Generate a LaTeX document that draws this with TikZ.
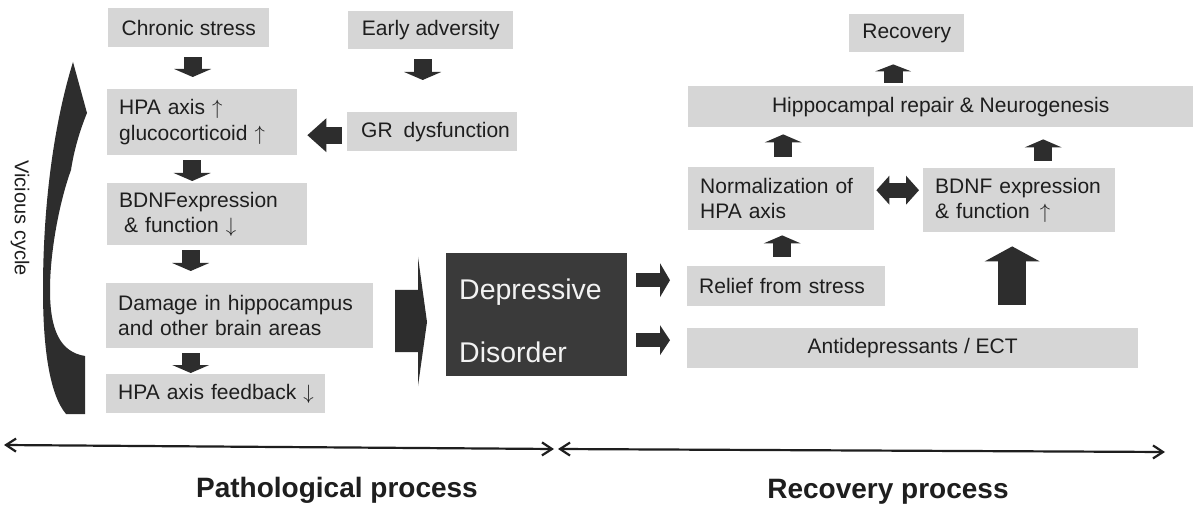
\documentclass[tikz,border=0pt]{standalone}
\usepackage{fontspec}
\setmainfont{Liberation Sans}
\usetikzlibrary{arrows.meta,calc}
\definecolor{boxgray}{RGB}{214,214,214}
\definecolor{arrdark}{RGB}{45,45,45}
\definecolor{depfill}{RGB}{58,58,58}
\definecolor{txt}{RGB}{30,30,30}
\definecolor{deptxt}{RGB}{242,242,242}
\newcommand{\up}{\ensuremath{\uparrow}}
\newcommand{\dn}{\ensuremath{\downarrow}}
\begin{document}
\begin{tikzpicture}[x=1pt,y=-1pt,
  gbox/.style={fill=boxgray, inner sep=0pt, anchor=north west, text=txt, font=\fontsize{21}{25.5}\selectfont},
  lbox/.style={gbox, align=left, inner xsep=12pt},
  cbox/.style={gbox, align=center},
  sarr/.style={arrdark, line width=18pt, -{Triangle[length=8pt,width=37pt,line width=0pt]}},
  harr/.style={arrdark, line width=14pt, -{Triangle[length=10pt,width=34pt,line width=0pt]}},
  axisline/.style={draw=txt, line width=2.2pt, {Straight Barb[length=10pt,width=13pt]}-{Straight Barb[length=10pt,width=13pt]}},
  deptext/.style={text=deptxt, font=\fontsize{28.5}{30}\selectfont, inner sep=0pt, anchor=base west},
  bold/.style={font=\fontsize{28}{30}\selectfont\bfseries, text=txt, anchor=base, inner sep=0pt}]
\fill[white] (0,0) rectangle (1195,505);
\useasboundingbox (0,0) rectangle (1195,505);

% boxes
\node[cbox, minimum width=161pt, minimum height=39pt] (cs) at (108,8) {Chronic stress};
\node[cbox, minimum width=165pt, minimum height=38pt] (ea) at (348,11) {Early adversity};
\node[lbox, text width=166pt, minimum height=66pt] (hpa) at (107,89) {\mbox{HPA axis \up}\\\mbox{glucocorticoid \up}};
\node[lbox, inner xsep=14pt, text width=142pt, minimum height=39pt] (gr) at (347,112) {\mbox{GR\hspace{11pt}dysfunction}};
\node[lbox, text width=176pt, minimum height=62pt] (bdnf) at (107,183) {\mbox{BDNFexpression}\\\mbox{\hspace*{5pt}\& function \dn}};
\node[lbox, text width=243pt, minimum height=65pt] (dmg) at (106,283) {\mbox{Damage in hippocampus}\\\mbox{and other brain areas}};
\node[lbox, text width=195pt, minimum height=39pt] (fb) at (106,374) {\mbox{HPA axis feedback \dn}};
\node[fill=depfill, inner sep=0pt, anchor=north west, minimum width=181pt, minimum height=123pt] (dep) at (446,253) {};
\node[deptext] (dep1) at ($(dep.north west)+(13,47)$) {Depressive};
\node[deptext] (dep2) at ($(dep.north west)+(13,109)$) {Disorder};
\node[lbox, text width=174pt, minimum height=40pt] (rel) at (687,266) {\mbox{Relief from stress}};
\node[cbox, minimum width=451pt, minimum height=40pt] (anti) at (687,328) {Antidepressants / ECT};
\node[lbox, text width=162pt, minimum height=63pt] (norm) at (688,167) {\mbox{Normalization of}\\\mbox{HPA axis}};
\node[lbox, text width=168pt, minimum height=64pt] (bdnf2) at (923,168) {\mbox{BDNF expression}\\\mbox{\& function\hspace{10pt}\up}};
\node[cbox, minimum width=505pt, minimum height=41pt] (hip) at (688,86) {Hippocampal repair \& Neurogenesis};
\node[cbox, minimum width=115pt, minimum height=38pt] (rec) at (849,14) {Recovery};

% vicious cycle
\node[rotate=-90, font=\fontsize{20}{24}\selectfont, text=txt, inner sep=0pt] (vc) at (20,218) {Vicious cycle};
\fill[arrdark] (73,62) -- (87,113) .. controls (80,130) and (74,150) .. (71,170)
  .. controls (60,200) and (50,250) .. (50,290)
  .. controls (50,330) and (60,352) .. (85,356)
  -- (85,414) -- (66,414)
  .. controls (50,395) and (43,350) .. (43,290)
  .. controls (43,200) and (55,120) .. (73,62) -- cycle;

% block arrows, left part
\draw[sarr, shorten <=10pt, shorten >=12pt] ($(cs.south)+(4,0)$) -- ($(cs.south|-hpa.north)+(4,0)$);
\draw[sarr, shorten <=10pt, shorten >=32pt] ($(ea.south)+(-8,0)$) -- ($(ea.south|-gr.north)+(-8,0)$);
\draw[arrdark, line width=17pt, -{Triangle[length=19pt,width=34pt,line width=0pt]}, shorten <=5pt, shorten >=10pt]
  ($(gr.west)+(0,3.5)$) -- ($(gr.west-|hpa.east)+(0,3.5)$);
\draw[sarr, shorten <=5pt, shorten >=2pt] ($(hpa.south)+(-10,0)$) -- ($(hpa.south|-bdnf.north)+(-10,0)$);
\draw[sarr, shorten <=5pt, shorten >=12pt] ($(bdnf.south)+(-16.5,0)$) -- ($(bdnf.south|-dmg.north)+(-16.5,0)$);
\draw[sarr, shorten <=5pt, shorten >=1pt] ($(dmg.south)+(-49,0)$) -- ($(dmg.south|-fb.north)+(-49,0)$);

% chevron into depressive disorder
\fill[arrdark] (395,290) -- (418,290) -- (418,257) -- (427,322) -- (418,386) -- (418,352) -- (395,352) -- cycle;

% arrows out of depressive disorder
\draw[harr, shorten <=9pt, shorten >=17pt] ($(dep.east)+(0,-34.5)$) -- ($(dep.east-|rel.west)+(0,-34.5)$);
\draw[arrdark, line width=14pt, -{Triangle[length=10pt,width=30pt,line width=0pt]}, shorten <=9pt, shorten >=17pt]
  ($(dep.east)+(0,25.5)$) -- ($(dep.east-|anti.west)+(0,25.5)$);

% recovery side arrows
\draw[sarr, shorten <=9pt, shorten >=5pt] ($(rel.north)+(-4,0)$) -- ($(rel.north|-norm.south)+(-4,0)$);
\draw[sarr, shorten <=10pt, shorten >=7pt] ($(norm.north)+(2,0)$) -- ($(norm.north|-hip.south)+(2,0)$);
\draw[sarr, shorten <=7pt, shorten >=12pt] ($(bdnf2.north)+(24,0)$) -- ($(bdnf2.north|-hip.south)+(24,0)$);
\draw[arrdark, line width=28pt, -{Triangle[length=15pt,width=55pt,line width=0pt]}, shorten <=23pt, shorten >=14pt]
  ($(anti.north)+(99.5,0)$) -- ($(anti.north|-bdnf2.south)+(99.5,0)$);
\draw[arrdark, line width=19pt, -{Triangle[length=7pt,width=36pt,line width=0pt]}, shorten <=3pt, shorten >=12pt]
  ($(hip.north)+(-47.5,0)$) -- ($(hip.north|-rec.south)+(-47.5,0)$);
\draw[arrdark, line width=15pt, {Triangle[length=13pt,width=29pt,line width=0pt]}-{Triangle[length=13pt,width=29pt,line width=0pt]}, shorten <=2pt, shorten >=4pt]
  ($(norm.east)+(0,-8.5)$) -- ($(norm.east-|bdnf2.west)+(0,-8.5)$);

% axis
\coordinate (axL) at (4,445);
\coordinate (axM1) at (554,449);
\coordinate (axM2) at (558,449);
\coordinate (axR) at (1165,452);
\draw[axisline] (axL) -- (axM1);
\draw[axisline] (axM2) -- (axR);

\node[bold] (path) at (337,497) {Pathological process};
\node[bold] (recp) at (888,498) {Recovery process};
\end{tikzpicture}
\end{document}
